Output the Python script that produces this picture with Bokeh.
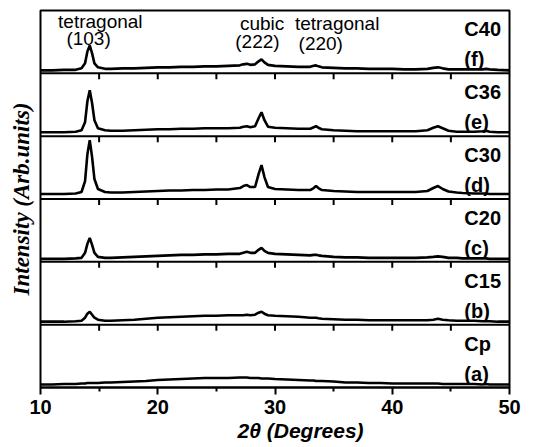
from bokeh.plotting import figure
from bokeh.models import Range1d, Span, Label, FixedTicker, Title
from bokeh.embed import file_html
from bokeh.resources import INLINE

# 2-theta sample positions (degrees)
two_theta = [10, 11, 12, 13, 13.5, 13.8, 14.0, 14.2, 14.4, 14.6, 14.9, 15.5, 16, 17, 18, 19, 20,
             21, 22, 23, 24, 25, 26, 27, 27.3, 27.6, 27.9, 28.3, 28.6, 28.85, 29.1, 29.4, 30,
             31, 32, 33, 33.3, 33.5, 33.7, 34, 35, 36, 37, 38, 39, 40, 41, 42, 43, 43.5, 43.9,
             44.3, 44.8, 45.5, 46, 47, 47.7, 48, 48.3, 49, 50]

# intensities (arb. units)
cp = [3, 3, 3.5, 3.5, 4, 4, 4.5, 4.5, 4.5, 4.5, 4.5, 5, 5, 5.5, 6, 6.5, 7.5,
      8, 8.5, 9, 9.5, 9.5, 9.5, 10, 10, 10, 9.5, 9.5, 9.5, 9, 9, 9, 8.5,
      8, 7.5, 7, 7, 6.5, 6.5, 6.5, 6, 5, 5, 4.5, 4.5, 4, 4, 4, 4, 4, 4,
      3.5, 3.5, 3.5, 3.5, 3.5, 3, 3.5, 3, 3, 3]
c15 = [3, 3, 3, 3.5, 4, 7, 11, 13, 10, 7, 5, 4, 4, 4.5, 5, 6, 7,
       7.5, 8, 8.5, 9, 9, 9.5, 9.5, 9.5, 10, 9.5, 10, 12, 13, 11, 9.5, 9,
       8.5, 8, 7, 7, 7, 6.5, 6, 5.5, 5, 5, 4.5, 4.5, 4.5, 4.5, 4.5, 4.5, 5, 6,
       5, 4.5, 4, 4, 4, 3.5, 3.5, 3.5, 3, 3]
c20 = [3, 3, 3, 3.5, 4, 9, 18, 24, 17, 9, 5, 4, 4, 4.5, 5, 5.5, 6,
       6.5, 7, 7, 7.5, 7.5, 8, 8, 9, 10, 9, 9, 12, 14, 11, 9, 8,
       7.5, 7, 6.5, 7, 7, 6.5, 6, 5, 4.5, 4.5, 4, 4, 4, 4, 4, 4.5, 5, 5.5,
       5, 4, 4, 3.5, 3.5, 3.5, 3.5, 3, 3, 3]
c30 = [5, 5, 5, 5.5, 7, 18, 45, 59, 42, 20, 10, 7, 6.5, 6.5, 7, 7.5, 8,
       8.5, 8.5, 9, 9, 9.5, 9.5, 11, 13, 14, 12, 12, 25, 34, 22, 12, 10,
       9.5, 9, 9, 11, 13, 11, 9, 8, 7.5, 7, 7, 7, 7, 7, 7, 8, 11, 13,
       10, 7.5, 6.5, 6, 5.5, 5.5, 5.5, 5, 5, 5]
c36 = [4, 4, 4, 4.5, 6, 14, 35, 46, 33, 16, 8, 6, 5.5, 5.5, 6, 6.5, 7,
       7, 7.5, 7.5, 8, 8, 8, 8.5, 9.5, 10, 9, 10, 18, 24, 16, 9.5, 8.5,
       8, 7.5, 7.5, 9, 10, 8.5, 7, 6, 5.5, 5, 5, 5, 5, 5, 5, 6, 8.5, 10,
       8, 5.5, 4.5, 4.5, 4.5, 5, 5.5, 4.5, 4, 4]
c40 = [3, 3, 3.5, 3.5, 5, 10, 22, 28, 20, 10, 6, 4.5, 4.5, 5, 5, 5.5, 6,
       6, 6.5, 6.5, 7, 7, 7.5, 8, 9, 9.5, 8.5, 9, 12, 14, 11, 8.5, 7.5,
       7, 6.5, 6.5, 7.5, 8, 7, 6, 5.5, 5, 5, 4.5, 4.5, 4.5, 4, 4, 4.5, 5.5, 6,
       5, 4, 4, 4, 4, 4, 4.5, 4, 3.5, 3]

series = [cp, c15, c20, c30, c36, c40]
names = ["Cp", "C15", "C20", "C30", "C36", "C40"]
letters = ["(a)", "(b)", "(c)", "(d)", "(e)", "(f)"]

x_major_ticks = [10, 20, 30, 40, 50]
x_minor_ticks = [15, 25, 35, 45]

P = 63  # height of one stacked panel in intensity units
n = len(series)

p = figure(frame_width=469, frame_height=377,
           x_range=Range1d(10, 50), y_range=Range1d(0, n * P),
           output_backend="svg", toolbar_location=None,
           min_border_left=40, min_border_top=10, min_border_right=30, min_border_bottom=0)

p.xgrid.grid_line_color = None
p.ygrid.grid_line_color = None
p.outline_line_color = "black"
p.outline_line_width = 2
p.outline_line_alpha = 1.0
p.background_fill_color = "white"
p.border_fill_color = "white"

xa = p.xaxis[0]
xa.ticker = FixedTicker(ticks=x_major_ticks, minor_ticks=x_minor_ticks)
xa.major_tick_out = 7
xa.major_tick_in = 0
xa.minor_tick_out = 4
xa.minor_tick_in = 0
xa.axis_line_width = 2
xa.major_tick_line_width = 2
xa.minor_tick_line_width = 2
xa.major_label_text_font = "Liberation Sans"
xa.major_label_text_font_style = "bold"
xa.major_label_text_font_size = "20px"
xa.major_label_text_color = "black"
xa.major_label_standoff = 5

ya = p.yaxis[0]
ya.ticker = FixedTicker(ticks=[])
ya.axis_line_color = None
ya.major_tick_out = 0
ya.major_tick_in = 0
ya.minor_tick_out = 0
ya.minor_tick_in = 0
ya.axis_label = "Intensity (Arb.units)"
ya.axis_label_text_font = "Liberation Serif"
ya.axis_label_text_font_style = "bold italic"
ya.axis_label_text_font_size = "23px"
ya.axis_label_text_color = "black"
ya.axis_label_standoff = 7

# x-axis title (placed slightly right of centre, as in the original)
xtitle = Title(text="2θ  (Degrees)", align="left", offset=197, standoff=1,
               text_font="Liberation Sans", text_font_style="bold italic",
               text_font_size="21px", text_color="black")
p.add_layout(xtitle, "below")

# panel separators and their tick marks
inner_ticks = x_minor_ticks + x_major_ticks[1:-1]
for k in range(1, n):
    p.add_layout(Span(location=k * P, dimension="width", line_color="black", line_width=2))
seg_x = [t for k in range(1, n) for t in inner_ticks]
seg_y0 = [k * P for k in range(1, n) for t in inner_ticks]
seg_y1 = [k * P - 6 for k in range(1, n) for t in inner_ticks]
p.segment(x0=seg_x, y0=seg_y0, x1=seg_x, y1=seg_y1, line_color="black", line_width=2)

# curves
for i, ys in enumerate(series):
    p.line(two_theta, [v + i * P for v in ys], line_color="black", line_width=2.6)

# right-hand labels
for i in range(n):
    p.add_layout(Label(x=46.15, y=i * P + 44, text=names[i], text_align="left",
                       text_baseline="middle", text_font="Liberation Sans",
                       text_font_style="bold", text_font_size="20px", text_color="black"))
    p.add_layout(Label(x=46.15, y=i * P + 14, text=letters[i], text_align="left",
                       text_baseline="middle", text_font="Liberation Sans",
                       text_font_style="bold", text_font_size="20px", text_color="black"))

# peak annotations
ann = [("tetragonal", 15.1, 367), ("(103)", 14.1, 350),
       ("cubic", 28.9, 365), ("(222)", 28.5, 347),
       ("tetragonal", 35.3, 365), ("(220)", 33.9, 345)]
for txt, ax, ay in ann:
    p.add_layout(Label(x=ax, y=ay, text=txt, text_align="center", text_baseline="middle",
                       text_font="Liberation Sans", text_font_size="19px", text_color="black"))

open("out.html", "w").write(file_html(p, INLINE))
